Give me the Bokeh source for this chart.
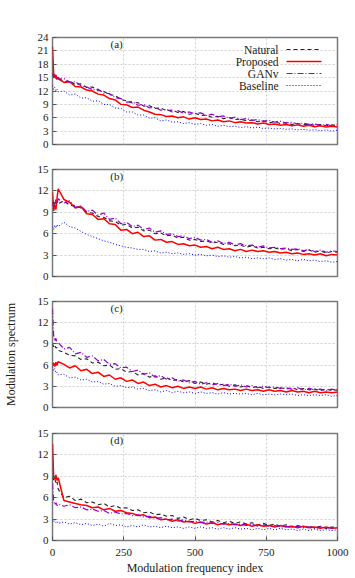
from bokeh.plotting import figure
from bokeh.layouts import column
from bokeh.models import FixedTicker, Label, Arrow, Range1d
from bokeh.embed import file_html
from bokeh.resources import INLINE

# Modulation frequency index samples
X = [0, 4, 8, 12, 16] + list(range(20, 1001, 20))

SERIES_NAMES = ["Natural", "Proposed", "GANv", "Baseline"]
PANEL_TAGS = ["(a)", "(b)", "(c)", "(d)"]
PANEL_YMAX = [24, 15, 15, 15]
X_TICKS = [0, 250, 500, 750, 1000]

A_NATURAL = [15.8, 15.0, 14.6, 15.1, 14.4, 14.7, 14.0, 14.3, 13.4, 13.6,
             12.8, 12.9, 12.1, 11.9, 11.2, 11.0, 10.1, 9.8, 9.3, 9.4,
             8.6, 8.7, 8.1, 8.2, 7.6, 7.7, 7.2, 7.4, 6.8, 7.0,
             6.5, 6.6, 6.1, 6.3, 5.8, 6.0, 5.6, 5.7, 5.3, 5.5,
             5.1, 5.3, 4.9, 5.1, 4.7, 4.9, 4.5, 4.7, 4.4, 4.6,
             4.3, 4.5, 4.2, 4.4, 4.2]
A_PROPOSED = [22.0, 16.0, 15.2, 15.6, 14.8, 15.0, 13.9, 14.1, 13.0, 12.9,
              12.2, 12.0, 11.3, 11.1, 10.3, 10.0, 9.0, 8.9, 8.3, 8.4,
              7.7, 7.3, 6.8, 6.7, 6.3, 6.4, 6.0, 6.2, 5.7, 6.0,
              5.6, 5.7, 5.3, 5.5, 5.1, 5.3, 4.9, 5.1, 4.8, 4.9,
              4.6, 4.8, 4.5, 4.6, 4.3, 4.5, 4.2, 4.4, 4.1, 4.3,
              4.0, 4.2, 3.9, 4.1, 3.9]
A_GANV = [16.0, 15.3, 15.6, 14.9, 15.2, 14.6, 14.8, 13.9, 14.1, 13.2,
          12.9, 12.3, 12.4, 11.5, 11.4, 10.5, 10.3, 9.5, 9.6, 8.8,
          9.0, 8.2, 8.3, 7.7, 7.9, 7.3, 7.6, 7.0, 7.3, 6.9,
          7.1, 6.5, 6.8, 6.2, 6.4, 5.9, 6.1, 5.6, 5.8, 5.4,
          5.6, 5.2, 5.4, 5.0, 5.2, 4.8, 5.0, 4.6, 4.8, 4.5,
          4.6, 4.3, 4.5, 4.2, 4.4]
A_BASELINE = [13.2, 12.3, 12.8, 12.0, 12.4, 11.8, 12.0, 11.1, 11.3, 10.4,
              10.5, 9.7, 9.8, 9.0, 9.0, 8.2, 8.1, 7.3, 7.3, 6.6,
              6.6, 5.9, 6.0, 5.3, 5.5, 5.0, 5.1, 4.7, 4.9, 4.5,
              4.7, 4.3, 4.5, 4.1, 4.3, 4.0, 4.1, 3.8, 4.0, 3.7,
              3.9, 3.6, 3.7, 3.5, 3.6, 3.4, 3.5, 3.3, 3.4, 3.2,
              3.3, 3.1, 3.3, 3.0, 3.2]

B_NATURAL = [10.5, 9.8, 10.4, 10.0, 10.6, 10.2, 10.6, 10.0, 9.9, 9.6,
             9.0, 8.9, 8.4, 8.3, 7.8, 7.7, 7.2, 7.3, 6.8, 6.9,
             6.4, 6.5, 6.0, 6.1, 5.7, 5.8, 5.4, 5.5, 5.1, 5.2,
             4.9, 5.0, 4.7, 4.8, 4.5, 4.6, 4.3, 4.4, 4.1, 4.3,
             4.0, 4.1, 3.9, 4.0, 3.8, 3.9, 3.6, 3.8, 3.5, 3.7,
             3.4, 3.6, 3.3, 3.5, 3.4]
B_PROPOSED = [11.8, 9.2, 10.0, 9.4, 11.0, 12.3, 10.8, 10.4, 9.6, 9.8,
              8.8, 8.7, 8.0, 8.1, 7.4, 7.3, 6.5, 6.6, 6.0, 6.2,
              5.6, 5.7, 5.1, 5.2, 4.8, 4.9, 4.5, 4.6, 4.3, 4.4,
              4.1, 4.2, 3.9, 4.1, 3.8, 3.9, 3.6, 3.8, 3.5, 3.7,
              3.5, 3.6, 3.4, 3.5, 3.3, 3.4, 3.2, 3.3, 3.1, 3.2,
              3.0, 3.2, 2.9, 3.1, 3.0]
B_GANV = [9.8, 10.6, 10.0, 10.8, 10.2, 10.9, 10.3, 10.6, 9.7, 9.9,
          9.1, 9.3, 8.6, 8.9, 8.0, 8.2, 7.4, 7.6, 7.0, 7.2,
          6.6, 6.8, 6.2, 6.4, 5.9, 6.0, 5.6, 5.7, 5.3, 5.5,
          5.1, 5.2, 4.8, 5.0, 4.6, 4.8, 4.4, 4.6, 4.3, 4.4,
          4.1, 4.3, 4.0, 4.1, 3.9, 4.0, 3.8, 3.9, 3.6, 3.8,
          3.5, 3.7, 3.4, 3.6, 3.5]
B_BASELINE = [7.0, 6.6, 7.2, 6.8, 7.3, 7.0, 7.6, 7.0, 6.8, 6.3,
              5.9, 5.6, 5.3, 5.0, 4.8, 4.5, 4.3, 4.1, 4.0, 3.8,
              3.8, 3.5, 3.6, 3.3, 3.4, 3.2, 3.3, 3.1, 3.2, 3.0,
              3.1, 2.9, 3.0, 2.8, 2.9, 2.7, 2.8, 2.6, 2.7, 2.5,
              2.6, 2.5, 2.6, 2.4, 2.5, 2.3, 2.4, 2.2, 2.4, 2.2,
              2.3, 2.1, 2.2, 2.0, 2.1]

C_NATURAL = [9.0, 8.6, 8.9, 8.4, 8.5, 8.1, 7.8, 7.4, 7.3, 6.8,
             6.9, 6.3, 6.4, 5.9, 6.0, 5.4, 5.5, 5.0, 5.1, 4.6,
             4.8, 4.3, 4.5, 4.0, 4.2, 3.8, 4.0, 3.6, 3.8, 3.4,
             3.6, 3.3, 3.5, 3.2, 3.3, 3.0, 3.2, 2.9, 3.1, 2.8,
             3.0, 2.7, 2.9, 2.7, 2.8, 2.6, 2.8, 2.5, 2.7, 2.5,
             2.6, 2.4, 2.6, 2.4, 2.5]
C_PROPOSED = [6.0, 6.3, 5.8, 6.4, 6.0, 6.5, 6.1, 5.6, 5.9, 5.2,
              5.4, 4.8, 5.0, 4.4, 4.6, 4.0, 4.2, 3.7, 3.9, 3.4,
              3.6, 3.1, 3.3, 2.9, 3.1, 2.8, 3.0, 2.7, 2.9, 2.7,
              2.9, 2.6, 2.8, 2.5, 2.7, 2.5, 2.6, 2.4, 2.6, 2.4,
              2.5, 2.3, 2.5, 2.3, 2.4, 2.2, 2.4, 2.2, 2.3, 2.1,
              2.3, 2.1, 2.2, 2.1, 2.2]
C_GANV = [14.0, 10.2, 9.4, 9.8, 9.0, 9.2, 8.3, 8.5, 7.6, 7.8,
          7.1, 7.3, 6.6, 6.8, 6.1, 6.2, 5.6, 5.7, 5.1, 5.3,
          4.7, 4.9, 4.3, 4.5, 4.0, 4.2, 3.7, 3.9, 3.5, 3.7,
          3.3, 3.5, 3.2, 3.4, 3.1, 3.3, 3.0, 3.2, 2.9, 3.1,
          2.8, 3.0, 2.8, 2.9, 2.7, 2.8, 2.6, 2.8, 2.5, 2.7,
          2.5, 2.6, 2.4, 2.6, 2.4]
C_BASELINE = [5.8, 5.2, 5.5, 4.9, 5.0, 4.6, 4.7, 4.2, 4.3, 3.9,
              4.0, 3.6, 3.7, 3.3, 3.4, 3.0, 3.1, 2.8, 2.9, 2.6,
              2.7, 2.4, 2.5, 2.2, 2.4, 2.1, 2.3, 2.1, 2.2, 2.0,
              2.2, 2.0, 2.1, 1.9, 2.1, 1.9, 2.0, 1.9, 2.0, 1.8,
              2.0, 1.8, 1.9, 1.8, 1.9, 1.8, 1.9, 1.7, 1.8, 1.7,
              1.8, 1.7, 1.8, 1.6, 1.7]

D_NATURAL = [9.0, 8.5, 8.8, 7.9, 8.2, 7.2, 6.0, 6.2, 5.6, 5.8,
             5.3, 5.4, 5.0, 5.2, 4.7, 4.9, 4.5, 4.6, 4.2, 4.3,
             3.9, 4.0, 3.6, 3.7, 3.4, 3.5, 3.1, 3.3, 2.9, 3.1,
             2.8, 2.9, 2.6, 2.8, 2.5, 2.7, 2.4, 2.6, 2.3, 2.5,
             2.2, 2.4, 2.1, 2.3, 2.0, 2.2, 1.9, 2.1, 1.9, 2.0,
             1.8, 2.0, 1.7, 1.9, 1.8]
D_PROPOSED = [13.6, 9.0, 8.6, 9.2, 8.4, 8.8, 5.6, 5.4, 5.2, 5.0,
              4.9, 4.6, 4.7, 4.3, 4.5, 4.1, 4.2, 3.9, 3.8, 3.5,
              3.6, 3.2, 3.3, 2.9, 3.0, 2.7, 2.9, 2.6, 2.7, 2.4,
              2.6, 2.3, 2.5, 2.2, 2.4, 2.2, 2.3, 2.1, 2.3, 2.0,
              2.2, 2.0, 2.1, 1.9, 2.1, 1.9, 2.0, 1.8, 2.0, 1.8,
              1.9, 1.7, 1.9, 1.7, 1.8]
D_GANV = [8.0, 5.6, 5.0, 5.3, 4.9, 5.1, 4.8, 5.0, 4.6, 4.7,
          4.3, 4.4, 4.1, 4.2, 3.8, 4.0, 3.7, 3.8, 3.5, 3.6,
          3.3, 3.4, 3.1, 3.2, 2.9, 3.0, 2.7, 2.9, 2.6, 2.7,
          2.5, 2.6, 2.4, 2.5, 2.3, 2.4, 2.2, 2.3, 2.1, 2.3,
          2.0, 2.2, 2.0, 2.1, 1.9, 2.0, 1.8, 2.0, 1.8, 1.9,
          1.7, 1.9, 1.7, 1.8, 1.7]
D_BASELINE = [2.9, 2.6, 2.8, 2.5, 2.7, 2.4, 2.6, 2.3, 2.5, 2.2,
              2.4, 2.1, 2.3, 2.0, 2.4, 2.1, 2.2, 1.9, 2.1, 1.9,
              2.2, 1.9, 2.0, 1.8, 2.0, 1.8, 1.9, 1.7, 1.9, 1.7,
              1.9, 1.7, 1.8, 1.6, 1.8, 1.6, 1.8, 1.6, 1.7, 1.5,
              1.7, 1.5, 1.7, 1.5, 1.7, 1.5, 1.6, 1.4, 1.6, 1.4,
              1.6, 1.4, 1.5, 1.4, 1.5]

PANEL_DATA = [
    [A_NATURAL, A_PROPOSED, A_GANV, A_BASELINE],
    [B_NATURAL, B_PROPOSED, B_GANV, B_BASELINE],
    [C_NATURAL, C_PROPOSED, C_GANV, C_BASELINE],
    [D_NATURAL, D_PROPOSED, D_GANV, D_BASELINE],
]

FONT = "Liberation Serif"
TXT = "#1a1a1a"
STYLES = [
    dict(line_color="#222222", line_width=1.1, line_dash="4 3"),
    dict(line_color="#ff0000", line_width=1.5, line_dash="solid"),
    dict(line_color="#9400d3", line_width=1.2, line_dash="6 2 1 2"),
    dict(line_color="#0000ff", line_width=1.0, line_dash="1 2"),
]

# layout (pixels): top border, frame height, bottom border for each panel
FRAME_W = 285
TOPS = [37, 13, 13, 13]
FRAMES = [107, 107, 106, 107]
BOTTOMS = [12, 12, 13, 38]
ROW_H = 12          # key row height (px)
KEY_W = 35          # key sample length (px)
KEY_LEFT = 234      # key sample left edge, from frame left (px)
KEY_TOP = 6         # key top, from frame top (px)
TEXT_GAP = 8        # gap between key text and key sample (px)

figs = []
for i in range(4):
    ymax = PANEL_YMAX[i]
    p = figure(frame_width=FRAME_W, frame_height=FRAMES[i],
               x_range=Range1d(0, 1000), y_range=Range1d(0, ymax),
               output_backend="svg", toolbar_location=None,
               min_border_left=49, min_border_right=21,
               min_border_top=TOPS[i], min_border_bottom=BOTTOMS[i])
    p.outline_line_color = "#7a7a7a"
    p.outline_line_width = 1.5
    p.background_fill_color = "white"

    yt = list(range(0, ymax + 1, 3))
    p.yaxis.ticker = FixedTicker(ticks=yt)
    p.xaxis.ticker = FixedTicker(ticks=X_TICKS)
    p.ygrid.ticker = FixedTicker(ticks=yt)
    p.xgrid.ticker = FixedTicker(ticks=X_TICKS)
    for g in (p.xgrid, p.ygrid):
        g.grid_line_color = "#cfcfcf"
        g.grid_line_dash = "2 2"
        g.grid_line_width = 1

    for ax in (p.xaxis, p.yaxis):
        ax.axis_line_color = None
        ax.major_tick_in = 4
        ax.major_tick_out = 0
        ax.major_tick_line_color = "#555555"
        ax.minor_tick_line_color = None
        ax.major_label_text_font = FONT
        ax.major_label_text_font_size = "11px"
        ax.major_label_text_color = TXT
        ax.axis_label_text_font = FONT
        ax.axis_label_text_font_style = "normal"
        ax.axis_label_text_font_size = "12px"
        ax.axis_label_text_color = TXT
    p.yaxis.major_label_standoff = 4

    if i < 3:
        p.xaxis.visible = False
    else:
        p.xaxis.major_label_standoff = 8
        p.xaxis.axis_label = "Modulation frequency index"
        p.xaxis.axis_label_standoff = 2
    if i == 2:
        p.yaxis.axis_label = "Modulation spectrum"
        p.yaxis.axis_label_standoff = 17

    for name, ys, st in zip(SERIES_NAMES, PANEL_DATA[i], STYLES):
        p.line(X, ys, **st)

    p.add_layout(Label(x=225, y=ymax * (1 - 6 / FRAMES[i]), text=PANEL_TAGS[i],
                       text_font=FONT, text_font_size="11px", text_color=TXT,
                       text_align="center", text_baseline="middle"))

    if i == 0:
        # gnuplot-style key: text right-aligned to the left of each key sample
        px2x = 1000 / FRAME_W
        x_text = (KEY_LEFT - TEXT_GAP) * px2x
        x_k0 = KEY_LEFT * px2x
        x_k1 = (KEY_LEFT + KEY_W) * px2x
        for k, (nm, st) in enumerate(zip(SERIES_NAMES, STYLES)):
            y_row = ymax * (1 - (KEY_TOP + ROW_H * (k + 0.5)) / FRAMES[i])
            p.add_layout(Label(x=x_text, y=y_row, text=nm,
                               text_font=FONT, text_font_size="11.5px", text_color=TXT,
                               text_align="right", text_baseline="middle"))
            p.add_layout(Arrow(end=None, x_start=x_k0, y_start=y_row,
                               x_end=x_k1, y_end=y_row, **st))
    figs.append(p)

layout = column(*figs, spacing=0)
open("out.html", "w").write(file_html(layout, INLINE))
